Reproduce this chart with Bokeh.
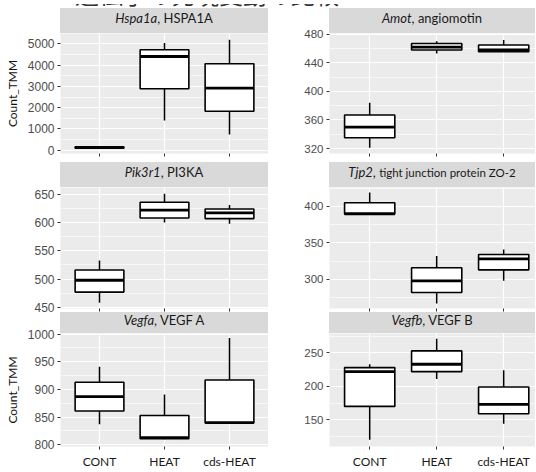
from bokeh.plotting import figure
from bokeh.layouts import column, row
from bokeh.models import Div, SingleIntervalTicker, FixedTicker
from bokeh.embed import file_html
from bokeh.resources import INLINE

TITLE = "遺伝子の発現変動の比較"
CATEGORIES = ["CONT", "HEAT", "cds-HEAT"]
X_POS = [1, 2, 3]
BOX_W = 0.75

# Hspa1a, HSPA1A
HSPA1A_LOWER = [70, 1400, 740]
HSPA1A_Q1 = [100, 2890, 1830]
HSPA1A_MED = [140, 4400, 2920]
HSPA1A_Q3 = [170, 4720, 4060]
HSPA1A_UPPER = [200, 5030, 5190]

# Amot, angiomotin
AMOT_LOWER = [321, 453, 455]
AMOT_Q1 = [335, 458, 455.5]
AMOT_MED = [350, 462, 458]
AMOT_Q3 = [367, 467, 465]
AMOT_UPPER = [384, 470, 472]

# Pik3r1, PI3KA
PIK3R1_LOWER = [458, 600, 598]
PIK3R1_Q1 = [477, 608, 607]
PIK3R1_MED = [498, 622, 617]
PIK3R1_Q3 = [516, 636, 624]
PIK3R1_UPPER = [533, 651, 631]

# Tjp2, tight junction protein ZO-2
TJP2_LOWER = [389, 267, 298]
TJP2_Q1 = [389.5, 282, 313]
TJP2_MED = [390, 298, 328]
TJP2_Q3 = [405, 316, 334]
TJP2_UPPER = [419, 332, 341]

# Vegfa, VEGF A
VEGFA_LOWER = [837, 810, 839]
VEGFA_Q1 = [861, 811, 839.5]
VEGFA_MED = [887, 813, 840]
VEGFA_Q3 = [913, 853, 917]
VEGFA_UPPER = [941, 891, 993]

# Vegfb, VEGF B
VEGFB_LOWER = [120, 211, 144]
VEGFB_Q1 = [170, 222, 159]
VEGFB_MED = [222, 233, 173]
VEGFB_Q3 = [228, 253, 199]
VEGFB_UPPER = [233, 271, 224]

PANEL_BG = "#EBEBEB"
STRIP_BG = "#D9D9D9"
OVERLAP = 6
LEFT_BORDER, LEFT_FRAME, LEFT_XEND = 60, 208, 3.6
RIGHT_BORDER, RIGHT_FRAME, RIGHT_XEND = 61, 206, 3.475


def strip(italic, rest, left_pad, frame_w, h, lh, rest_size="13px", top_margin=0):
    html = (
        f'<div style="margin-left:{left_pad}px;width:{frame_w}px;height:{h}px;'
        f'line-height:{lh}px;background:{STRIP_BG};text-align:center;'
        f'font-family:Lato;font-size:13px;color:#1A1A1A;white-space:nowrap;overflow:hidden">'
        f'<i>{italic}</i>, <span style="font-size:{rest_size}">{rest}</span></div>'
    )
    return Div(text=html, width=left_pad + frame_w, height=h,
               margin=(top_margin, 0, 0, 0))


def panel(lower, q1, med, q3, upper, y_range, interval, left, frame_h,
          border_bottom, bottom_labels=False, ylabel=None):
    border_left = LEFT_BORDER if left else RIGHT_BORDER
    frame_w = LEFT_FRAME if left else RIGHT_FRAME
    x_end = LEFT_XEND if left else RIGHT_XEND
    p = figure(width=border_left + frame_w,
               height=OVERLAP + frame_h + border_bottom,
               x_range=(0.4, x_end), y_range=y_range, title=None,
               output_backend="svg", toolbar_location=None,
               min_border_top=OVERLAP, min_border_bottom=border_bottom,
               min_border_left=border_left, min_border_right=0,
               margin=(-OVERLAP, 0, 0, 0),
               border_fill_alpha=0, background_fill_color=PANEL_BG,
               outline_line_color=None)
    # whiskers
    p.segment(x0=X_POS, y0=q3, x1=X_POS, y1=upper, line_color="black", line_width=1.5)
    p.segment(x0=X_POS, y0=q1, x1=X_POS, y1=lower, line_color="black", line_width=1.5)
    # boxes
    p.vbar(x=X_POS, width=BOX_W, bottom=q1, top=q3, fill_color="white",
           line_color="black", line_width=1.6)
    # medians
    p.segment(x0=[x - BOX_W / 2 for x in X_POS], y0=med,
              x1=[x + BOX_W / 2 for x in X_POS], y1=med,
              line_color="black", line_width=2.8, line_cap="butt")

    yt = SingleIntervalTicker(interval=interval, num_minor_ticks=2)
    p.yaxis.ticker = yt
    p.ygrid.ticker = yt
    xt = FixedTicker(ticks=X_POS)
    p.xaxis.ticker = xt
    p.xgrid.ticker = xt
    p.xaxis.major_label_overrides = {x: c for x, c in zip(X_POS, CATEGORIES)}

    for g in (p.xgrid, p.ygrid):
        g.grid_line_color = "white"
        g.grid_line_width = 1.2
    p.ygrid.minor_grid_line_color = "white"
    p.ygrid.minor_grid_line_width = 0.6

    for ax in (p.xaxis, p.yaxis):
        ax.axis_line_color = None
        ax.major_tick_line_color = "#333333"
        ax.major_tick_out = 3
        ax.major_tick_in = 0
        ax.minor_tick_line_color = None
    p.yaxis.major_label_text_font = "Liberation Sans"
    p.yaxis.major_label_text_font_size = "12px" if left else "11.5px"
    p.yaxis.major_label_text_color = "#4D4D4D"
    p.yaxis.major_label_standoff = 2
    if ylabel:
        p.yaxis.axis_label = ylabel
        p.yaxis.axis_label_text_font = "Lato"
        p.yaxis.axis_label_text_font_size = "12px"
        p.yaxis.axis_label_text_font_style = "normal"
        p.yaxis.axis_label_text_color = "#111111"
        p.yaxis.axis_label_standoff = 5
    if bottom_labels:
        p.xaxis.major_label_text_font = "Lato"
        p.xaxis.major_label_text_font_size = "12px"
        p.xaxis.major_label_text_color = "#1A1A1A"
        p.xaxis.major_label_standoff = 4
    else:
        p.xaxis.major_label_text_font_size = "1px"
        p.xaxis.major_label_text_color = None
        p.xaxis.major_label_standoff = 0
    return p, border_left, frame_w


def cell(italic, rest, stats, y_range, interval, left, frame_h, border_bottom,
         strip_h, strip_lh, bottom_labels=False, ylabel=None, rest_size="13px",
         strip_top_margin=0):
    p, bl, fw = panel(*stats, y_range=y_range, interval=interval, left=left,
                      frame_h=frame_h, border_bottom=border_bottom,
                      bottom_labels=bottom_labels, ylabel=ylabel)
    s = strip(italic, rest, bl, fw, strip_h, strip_lh, rest_size, strip_top_margin)
    return column(s, p, spacing=0)


title_div = Div(
    text=(f'<div style="height:8px;overflow:hidden;width:535px">'
          f'<div style="font-family:\'Noto Sans CJK JP\';font-size:24px;line-height:24px;'
          f'margin-top:-22px;margin-left:75px;color:#333333;white-space:nowrap">{TITLE}</div></div>'),
    width=535, height=8, margin=(0, 0, 0, 0))

r1 = row(
    cell("Hspa1a", "HSPA1A",
         (HSPA1A_LOWER, HSPA1A_Q1, HSPA1A_MED, HSPA1A_Q3, HSPA1A_UPPER),
         (-150, 5480), 1000, True, 120, 9, 25, 21, ylabel="Count_TMM"),
    cell("Amot", "angiomotin",
         (AMOT_LOWER, AMOT_Q1, AMOT_MED, AMOT_Q3, AMOT_UPPER),
         (313, 481), 40, False, 120, 9, 25, 21),
    spacing=0)
r2 = row(
    cell("Pik3r1", "PI3KA",
         (PIK3R1_LOWER, PIK3R1_Q1, PIK3R1_MED, PIK3R1_Q3, PIK3R1_UPPER),
         (448, 662), 50, True, 121, 9, 25, 21),
    cell("Tjp2", "tight junction protein ZO-2",
         (TJP2_LOWER, TJP2_Q1, TJP2_MED, TJP2_Q3, TJP2_UPPER),
         (260, 426), 50, False, 121, 9, 25, 21, rest_size="11.5px"),
    spacing=0)
r3 = row(
    cell("Vegfa", "VEGF A",
         (VEGFA_LOWER, VEGFA_Q1, VEGFA_MED, VEGFA_Q3, VEGFA_UPPER),
         (797, 1001), 50, True, 117, 21, 21, 16, bottom_labels=True,
         ylabel="Count_TMM", strip_top_margin=-5),
    cell("Vegfb", "VEGF B",
         (VEGFB_LOWER, VEGFB_Q1, VEGFB_MED, VEGFB_Q3, VEGFB_UPPER),
         (110, 279), 50, False, 117, 21, 21, 16, bottom_labels=True,
         strip_top_margin=-5),
    spacing=0)

layout = column(title_div, r1, r2, r3, spacing=0)

open("out.html", "w").write(file_html(layout, INLINE))
